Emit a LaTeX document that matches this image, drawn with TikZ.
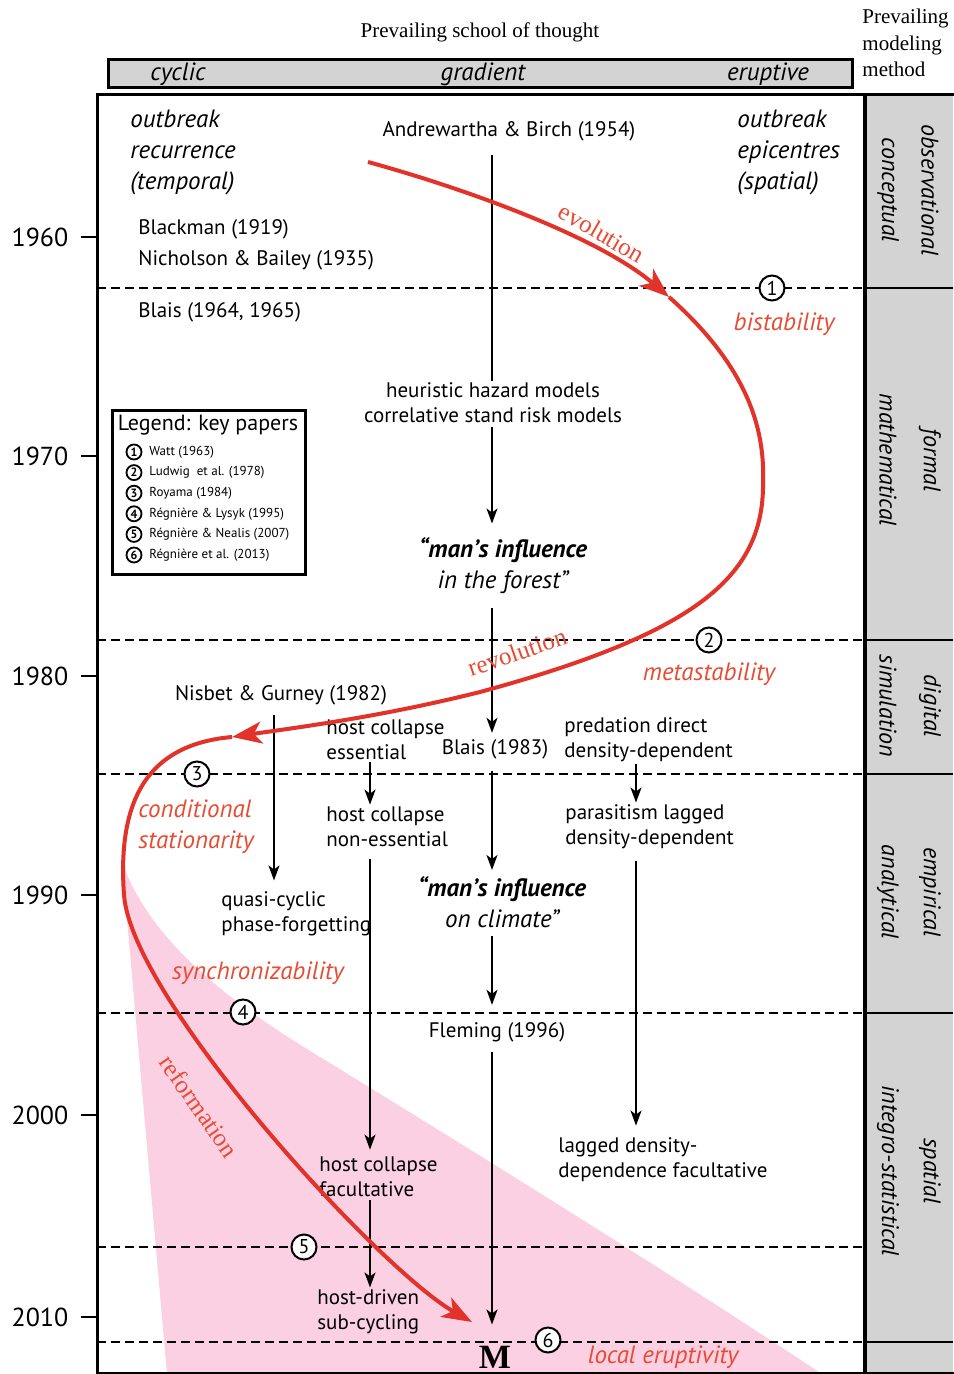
\documentclass[tikz,border=0pt]{standalone}
\definecolor{redline}{HTML}{E1332A}
\definecolor{redtxt}{HTML}{E84A32}
\definecolor{pinkz}{HTML}{FBD0E2}
\definecolor{greyc}{HTML}{D3D3D3}
\usepackage{fontspec}
\setmainfont{Liberation Serif}
\setsansfont{PT Sans}
\usetikzlibrary{arrows.meta}
\usetikzlibrary{calc}

\begin{document}
\begin{tikzpicture}[x=0.5pt,y=-0.5pt,
	txt/.style={font=\sffamily\fontsize{10.5}{12.5}\selectfont,align=left,inner sep=1pt},
	itx/.style={font=\sffamily\itshape\fontsize{12.5}{15.5}\selectfont,align=left,inner sep=1pt},
	rlab/.style={font=\sffamily\itshape\fontsize{12.5}{15.5}\selectfont,text=redtxt,align=left,inner sep=1pt},
	rser/.style={font=\rmfamily\fontsize{12.5}{14}\selectfont,text=redtxt,inner sep=0pt},
	yr/.style={font=\sffamily\fontsize{13}{15}\selectfont},
	colab/.style={font=\sffamily\itshape\fontsize{12}{14}\selectfont,rotate=-90},
	num/.style={circle,draw,line width=1pt,fill=white,inner sep=0pt,minimum size=12.5pt,font=\sffamily\fontsize{10}{10}\selectfont},
	lnum/.style={circle,draw,line width=0.9pt,inner sep=0pt,minimum size=7.5pt,font=\sffamily\bfseries\fontsize{6}{6}\selectfont},
	arr/.style={line width=0.9pt,-{Stealth[length=7.5pt,width=5.5pt,inset=2pt]}},
	redarr/.style={draw=redline,line width=2pt,-{Stealth[length=15pt,width=11pt,inset=4pt]}},
	sepline/.style={line width=1.2pt,dash pattern=on 4.5pt off 2.5pt}]
	\useasboundingbox (0,0) rectangle (953,1374);
	%grey column and pink wedge
	\fill[greyc] (865,95) rectangle (953,1374);
	\fill[pinkz] (122,862) .. controls (150,940) and (225,1000) .. (325,1060)
	.. controls (455,1140) and (650,1260) .. (822,1374) -- (167,1374) -- cycle;
	\foreach \y in {288,640,774,1013,1247,1342}
	\draw[sepline] (97,\y) -- (865,\y);
	\foreach \y in {288,640,774,1013,1342}
	\draw[line width=1pt] (865,\y) -- (953,\y);
	\draw[line width=1.5pt] (97,95) rectangle (960,1373);
	\draw[line width=2pt] (865,95) -- (865,1373);
	%header
	\node[font=\rmfamily\fontsize{10.5}{12}\selectfont] (school) at (480,32) {Prevailing school of thought};
	\node[font=\rmfamily\fontsize{10.5}{13.25}\selectfont,align=left,anchor=west,inner sep=0pt] (method) at (862,43) {Prevailing\\modeling\\method};
	\filldraw[fill=greyc,line width=1.5pt] (108,60) rectangle (852,88);
	\foreach \w/\x in {cyclic/178,gradient/483,eruptive/768}
	\node[font=\sffamily\itshape\fontsize{12.5}{14}\selectfont] (hd\w) at (\x,74) {\w};
	%years
	\foreach \yy/\y in {1960/237,1970/456,1980/676,1990/895,2000/1115,2010/1317}{
		\draw[line width=1pt] (81,\y) -- (97,\y);
		\node[yr] (yr\yy) at (40,\y) {\yy};
	}
	%modeling methods
	\foreach \a/\b/\y in {conceptual/observational/190,mathematical/formal/460,simulation/digital/706,analytical/empirical/892,integro-statistical/spatial/1171}{
		\node[colab] (m\b) at (888,\y) {\a};
		\node[colab] at (930,\y) {\b};
	}
	%texts
	\node[itx,anchor=west] (recur) at (128,153) {outbreak\\recurrence\\(temporal)};
	\node[itx,anchor=west] (epic) at (735,153) {outbreak\\epicentres\\(spatial)};
	\node[txt] (andr) at (509,131) {Andrewartha \& Birch (1954)};
	\node[txt,anchor=west] (blackman) at (136,229) {Blackman (1919)};
	\node[txt,anchor=west] (nicholson) at (136,260) {Nicholson \& Bailey (1935)};
	\node[txt,anchor=west] (blais64) at (136,312) {Blais (1964, 1965)};
	\node[txt,align=center] (heur) at (493,403) {heuristic hazard models\\correlative stand risk models};
	\node[itx,align=center] (forest) at (503,566) {{\bfseries “man’s influence}\\in the forest”};
	\node[txt] (nisbet) at (281,695) {Nisbet \& Gurney (1982)};
	\node[txt,anchor=west] (hcess) at (324,740) {host collapse\\essential};
	\node[txt] (blais83) at (495,749) {Blais (1983)};
	\node[txt,anchor=west] (preda) at (562,740) {predation direct\\density-dependent};
	\node[txt,anchor=west] (hcnon) at (324,827) {host collapse\\non-essential};
	\node[txt,anchor=west] (parasit) at (563,827) {parasitism lagged\\density-dependent};
	\node[itx,align=center] (climate) at (502,902) {{\bfseries “man’s influence}\\on climate”};
	\node[txt,anchor=west] (quasi) at (219,914) {quasi-cyclic\\phase-forgetting};
	\node[txt] (fleming) at (497,1032) {Fleming (1996)};
	\node[txt,anchor=west] (lagged) at (556,1160) {lagged density-\\dependence facultative};
	\node[txt,anchor=west] (hcfac) at (317,1177) {host collapse\\facultative};
	\node[txt,anchor=west] (hostdrv) at (315,1312) {host-driven\\sub-cycling};
	\node[font=\rmfamily\bfseries\fontsize{17}{17}\selectfont,inner sep=1pt] (mnode) at (495,1357) {M};
	%legend
	\draw[line width=1.5pt] (112,410) rectangle (305,574);
	\node[font=\sffamily\fontsize{11}{12}\selectfont] (legend) at (208,425) {Legend: key papers};
	\foreach \n/\paper in {1/{Watt (1963)},2/{Ludwig\ \ et al. (1978)},3/{Royama (1984)},4/{Régnière \& Lysyk (1995)},5/{Régnière \& Nealis (2007)},6/{Régnière et al. (2013)}}{
		\node[lnum] (key\n) at (134,{452+20.6*(\n-1)}) {\n};
		\node[font=\sffamily\fontsize{6.5}{7}\selectfont,anchor=west,inner sep=0pt] (paper\n) at (149,{452+20.6*(\n-1)}) {\paper};
	}
	%black arrows
	\coordinate (gx) at (492,0);
	\coordinate (nx) at (274,0);
	\coordinate (hx) at (370,0);
	\coordinate (px) at (636,0);
	\draw[line width=0.9pt,shorten <=6pt] (andr.south -| gx) -- (heur.north -| gx);
	\draw[arr,shorten <=1pt,shorten >=6pt] (heur.south -| gx) -- (forest.north -| gx);
	\draw[arr,shorten <=6pt,shorten >=2pt] (forest.south -| gx) -- (blais83.north -| gx);
	\draw[arr,shorten <=5pt,shorten >=2pt] (blais83.south -| gx) -- (climate.north -| gx);
	\draw[arr,shorten <=3pt,shorten >=7.5pt] (climate.south -| gx) -- (fleming.north -| gx);
	\draw[arr,shorten <=4pt,shorten >=9.5pt] (fleming.south -| gx) -- (mnode.north -| gx);
	\draw[arr,shorten <=4pt,shorten >=4.5pt] (nisbet.south -| nx) -- (quasi.north -| nx);
	\draw[arr] (hcess.south -| hx) -- (hcnon.north -| hx);
	\draw[arr,shorten <=5pt,shorten >=2.5pt] (hcnon.south -| hx) -- (hcfac.north -| hx);
	\draw[arr,shorten <=0.5pt] (hcfac.south -| hx) -- (hostdrv.north -| hx);
	\draw[arr] (preda.south -| px) -- (parasit.north -| px);
	\draw[arr,shorten <=5pt,shorten >=5pt] (parasit.south -| px) -- (lagged.north -| px);
	%red path
	\coordinate (r0) at (368,162);
	\coordinate (r1) at (669,297);
	\coordinate (r2) at (232,737);
	\coordinate (r3) at (472,1322);
	\draw[redarr] (r0) .. controls (470,190) and (600,238) .. (r1);
	\draw[redarr] (r1) .. controls (740,360) and (765,420) .. (763,480)
	.. controls (765,575) and (700,632) .. (480,692)
	.. controls (380,717) and (300,727) .. (r2);
	\draw[redarr] (r2) .. controls (140,745) and (118,810) .. (124,895)
	.. controls (132,1000) and (380,1270) .. (r3);
	\node[rser,rotate=-30] (evol) at (602,233) {evolution};
	\node[rlab] (bist) at (784,324) {bistability};
	\node[rser,rotate=19] (revol) at (517,652) {revolution};
	\node[rlab] (meta) at (709,674) {metastability};
	\node[rlab,anchor=west] (cond) at (136,827) {conditional\\stationarity};
	\node[rlab] (synch) at (258,973) {synchronizability};
	\node[rser,rotate=-55] (reform) at (199,1106) {reformation};
	\node[rlab] (local) at (663,1357) {local eruptivity};
	%key paper marks
	\foreach \n/\x/\y in {1/772/288,2/709/640,3/197/774,4/243/1012,5/304/1247,6/548/1340}
	\node[num] (c\n) at (\x,\y) {\n};
\end{tikzpicture}
\end{document}
